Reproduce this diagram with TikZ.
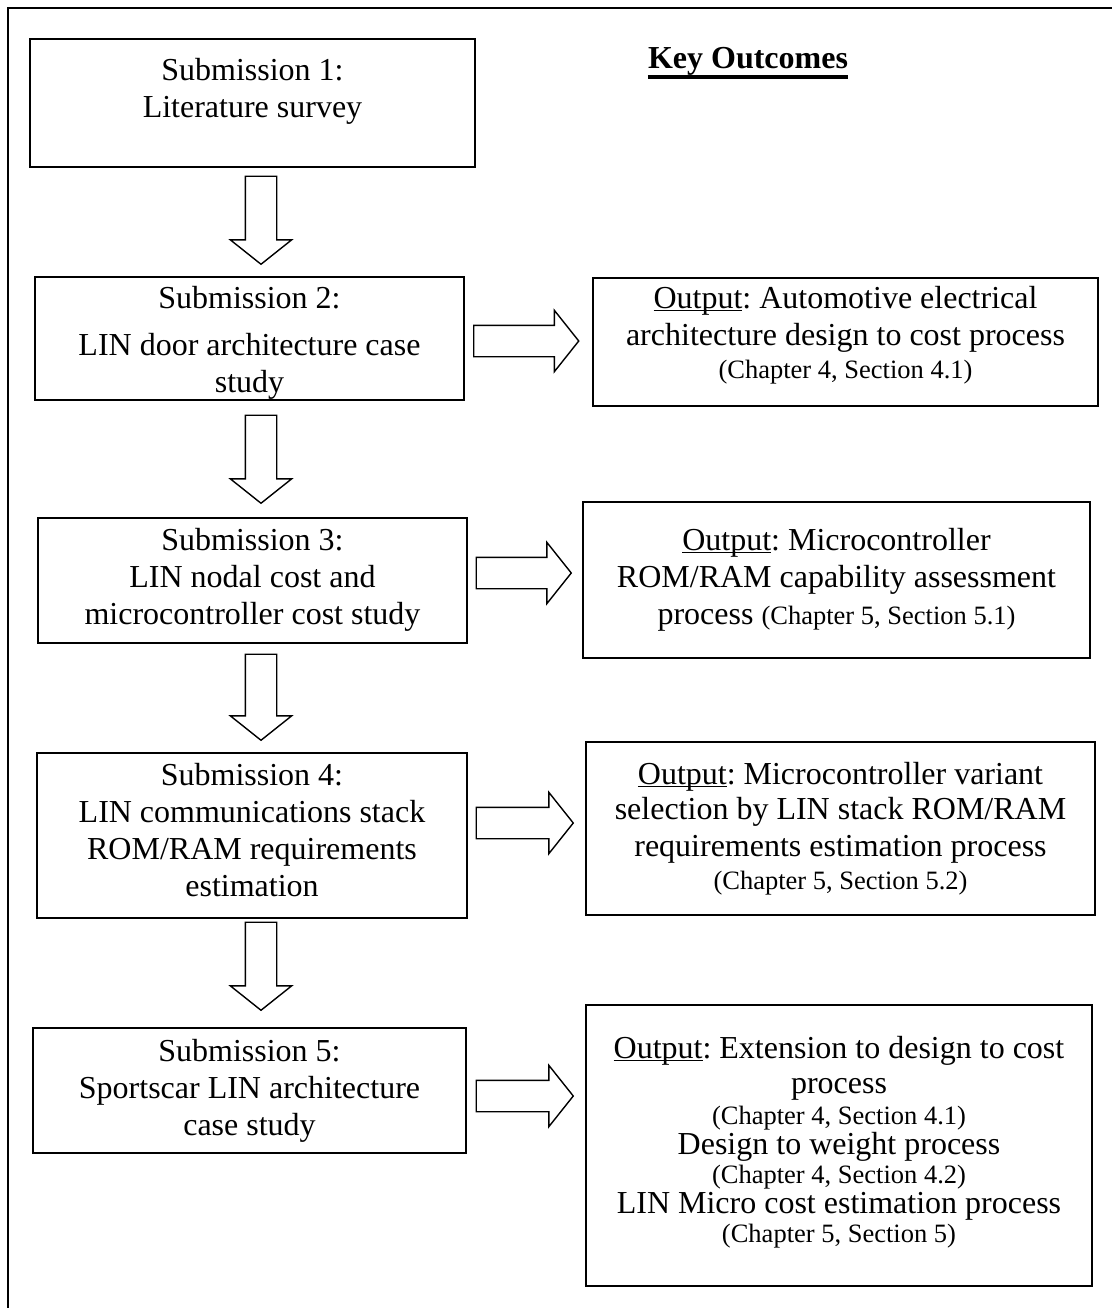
\documentclass[tikz,border=0pt]{standalone}
\usepackage{fontspec}
\setmainfont{Liberation Serif}
\usetikzlibrary{shapes.arrows}
\frenchspacing

% text sizes (picture unit is 1pt)
\newcommand\mainsz{\fontsize{32}{37}\selectfont}
\newcommand\smallsz{\fontsize{26.5}{31}\selectfont}
\newcommand\outlbl{\underline{\smash{Output}}}

\begin{document}
\begin{tikzpicture}[x=1pt,y=-1pt,
  box/.style={draw, line width=1.8pt, inner sep=0pt, outer sep=0pt, anchor=north west},
  txt/.style={inner sep=0pt, align=center, font=\mainsz},
  blockarrow/.style={draw, line width=1.4pt, single arrow, inner xsep=0pt, inner ysep=15pt,
    single arrow head extend=15pt, single arrow tip angle=103},
  ]
\useasboundingbox (0,0) rectangle (1111,1308);

% outer frame (left and top edges)
\draw[line width=2.5pt] (8,1310) -- (8,8) -- (1113,8);

% heading
\node[inner sep=0pt, anchor=base, font=\mainsz\bfseries] (ko) at (748,69) {Key Outcomes};
\draw[line width=3.5pt] ([yshift=-8pt]ko.base west) -- ([yshift=-8pt]ko.base east);

% submissions (left column)
\node[box, minimum width=445pt, minimum height=128pt] (b1) at (30,39) {};
\node[box, minimum width=429pt, minimum height=123pt] (b2) at (35,277) {};
\node[box, minimum width=429pt, minimum height=125pt] (b3) at (38,518) {};
\node[box, minimum width=430pt, minimum height=165pt] (b4) at (37,753) {};
\node[box, minimum width=433pt, minimum height=125pt] (b5) at (33,1028) {};

\node[txt, anchor=north] (t1) at ([yshift=-15pt]b1.north) {\strut Submission 1:\\Literature survey};
\node[txt] (t2) at ([yshift=-5pt]b2.center) {\strut Submission 2:\\[10pt]LIN door architecture case\\study\strut};
\node[txt] (t3) at (b3.center) {\strut Submission 3:\\LIN nodal cost and\\microcontroller cost study\strut};
\node[txt] (t4) at ([yshift=2pt]b4.center) {\strut Submission 4:\\LIN communications stack\\ROM/RAM requirements\\estimation\strut};
\node[txt] (t5) at ([yshift=-1pt]b5.center) {\strut Submission 5:\\Sportscar LIN architecture\\case study\strut};

% outcomes (right column)
\node[box, minimum width=505pt, minimum height=128pt] (r1) at (593,278) {};
\node[box, minimum width=507pt, minimum height=156pt] (r2) at (583,502) {};
\node[box, minimum width=509pt, minimum height=173pt] (r3) at (586,742) {};
\node[box, minimum width=506pt, minimum height=281pt] (r4) at (586,1005) {};

\node[txt] (u1) at ([yshift=7pt]r1.center) {\strut\outlbl: Automotive electrical\\architecture design to cost process\\[-4pt]
  {\smallsz (Chapter 4, Section 4.1)\strut}};
\node[txt] (u2) at (r2.center) {\strut\outlbl: Microcontroller\\ROM/RAM capability assessment\\
  process {\smallsz (Chapter 5, Section 5.1)}\strut};
\node[txt] (u3) at (r3.center) {\strut\outlbl: Microcontroller variant\\[-2pt]selection by LIN stack ROM/RAM\\
  requirements estimation process\\[-4pt]{\smallsz (Chapter 5, Section 5.2)\strut}};
\node[txt] (u4) at ([yshift=3pt]r4.center) {\strut\outlbl: Extension to design to cost\\[-2pt]process\\[-6pt]
  {\smallsz (Chapter 4, Section 4.1)}\\[-7pt]Design to weight process\\[-8pt]
  {\smallsz (Chapter 4, Section 4.2)}\\[-7pt]LIN Micro cost estimation process\\[-8pt]
  {\smallsz (Chapter 5, Section 5)\strut}};

% block arrows down the submission sequence
\node[blockarrow, rotate=-90, minimum height=88pt] (a1) at (261,214) {};
\node[blockarrow, rotate=-90, minimum height=88pt] (a2) at (261,453) {};
\node[blockarrow, rotate=-90, minimum height=86pt] (a3) at (261,691) {};
\node[blockarrow, rotate=-90, minimum height=88pt] (a4) at (261,960) {};

% block arrows from submissions to outcomes
\node[blockarrow, minimum height=105pt] (o1) at (520,341) {};
\node[blockarrow, minimum height=95pt] (o2) at (517.5,573) {};
\node[blockarrow, minimum height=97pt] (o3) at (518.5,823) {};
\node[blockarrow, minimum height=97pt] (o4) at (518.5,1096) {};
\end{tikzpicture}
\end{document}
